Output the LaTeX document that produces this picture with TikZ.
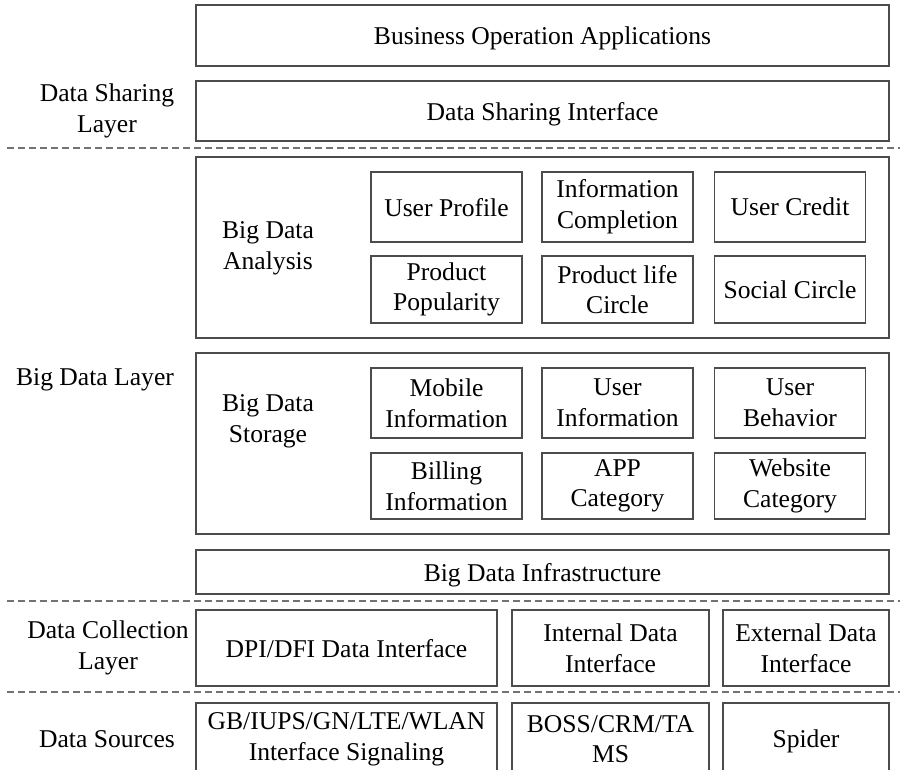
\documentclass[tikz,border=0pt]{standalone}
\usepackage{fontspec}
\setmainfont{Liberation Serif}
\usepackage{tikz}
\usetikzlibrary{positioning}

\begin{document}
\begin{tikzpicture}[x=0.5pt, y=-0.5pt,
          every node/.style={font=\fontsize{12.8}{15.3}\selectfont, align=center, inner sep=0pt},
          box/.style={rectangle, draw=black!70, line width=0.55pt},
          small/.style={box, minimum width=75.5pt, minimum height=35pt},
          oneline/.style={text depth=0pt},
          sep/.style={draw=black!55, line width=0.55pt, dash pattern=on 3.5pt off 2pt}]
          \useasboundingbox (0,0) rectangle (900,770);
          \clip (0,0) rectangle (900,770);

          % top layers
          \node[box, oneline, minimum width=346.5pt, minimum height=30.5pt] (biz) at (542.5,35.5) {Business Operation Applications};
          \node[box, oneline, minimum width=346.5pt, minimum height=30pt] (share) at (542.5,111) {Data Sharing Interface};
          \node (sharelbl) at (107,111) {Data Sharing\\Layer};
          \draw[sep] (7,148) -- (900,148);

          % analysis
          \node[box, minimum width=346.5pt, minimum height=90.5pt] (analysis) at (542.5,247.5) {};
          \node (analysislbl) at (268,248) {Big Data\\Analysis};
          \node[small, oneline] (profile) at (446.5,207) {User Profile};
          \node[small] (complete) at (617.5,207) {Information\\Completion};
          \node[small, oneline] (credit) at (790,207) {User Credit};
          \node[small, minimum height=33.5pt] (popular) at (446.5,289.5) {Product\\Popularity};
          \node[small, minimum height=33.5pt] (life) at (617.5,289.5) {Product life\\Circle};
          \node[small, oneline, minimum height=33.5pt] (social) at (790,289.5) {Social Circle};

          % storage
          \node[box, minimum width=346.5pt, minimum height=90.5pt] (storage) at (542.5,443.5) {};
          \node (storagelbl) at (268,421) {Big Data\\Storage};
          \node[oneline] (biglbl) at (95,377) {Big Data Layer};
          \node[small] (mobile) at (446.5,403) {Mobile\\Information};
          \node[small] (userinfo) at (617.5,403) {User\\Information};
          \node[small] (behavior) at (790,403) {User\\Behavior};
          \node[small, minimum height=33pt] (billing) at (446.5,486) {Billing\\Information};
          \node[small, minimum height=33pt] (app) at (617.5,486) {APP\\Category};
          \node[small, minimum height=33pt] (web) at (790,486) {Website\\Category};

          \node[box, oneline, minimum width=346.5pt, minimum height=22pt] (infra) at (542.5,572) {Big Data Infrastructure};
          \draw[sep] (7,601) -- (900,601);

          % collection
          \node (collectlbl) at (108,648) {Data Collection\\Layer};
          \node[box, oneline, minimum width=150.5pt, minimum height=38pt] (dpi) at (346.5,648) {DPI/DFI Data Interface};
          \node[box, minimum width=98.5pt, minimum height=38pt] (internal) at (610.5,648) {Internal Data\\Interface};
          \node[box, minimum width=83pt, minimum height=38pt] (external) at (806,648) {External Data\\Interface};
          \draw[sep] (7,692) -- (900,692);

          % sources
          \node[oneline] (sourcelbl) at (107,739) {Data Sources};
          \node[box, minimum width=150.5pt, minimum height=36pt] (signal) at (346.5,739) {GB/IUPS/GN/LTE/WLAN\\Interface Signaling};
          \node[box, minimum width=98.5pt, minimum height=36pt] (boss) at (610.5,739) {BOSS/CRM/TA\\MS};
          \node[box, oneline, minimum width=83pt, minimum height=36pt] (spider) at (806,739) {Spider};
        \end{tikzpicture}
\end{document}
